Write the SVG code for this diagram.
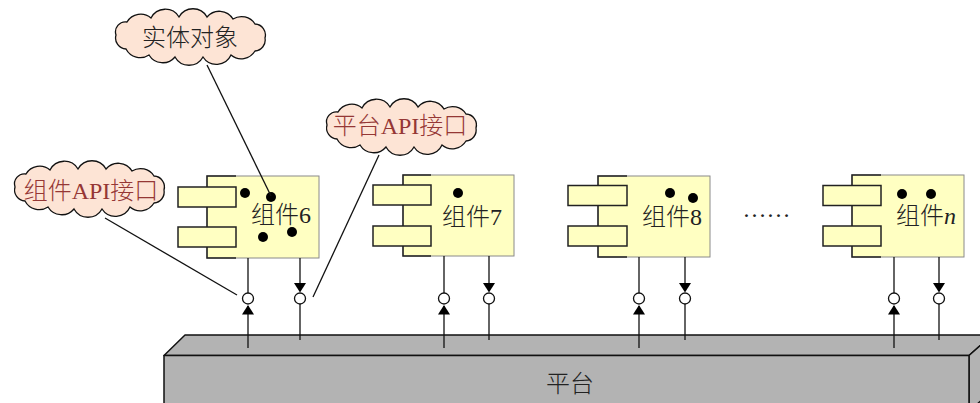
<svg xmlns="http://www.w3.org/2000/svg" width="980" height="403" viewBox="0 0 980 403">
<defs>
<style>
.body{fill:#ffffc2;stroke:#8a8a8a;stroke-width:1}
.edge{fill:none;stroke:#222;stroke-width:1.5}
.port{fill:#ffffc2;stroke:#222;stroke-width:1.5}
.dot{fill:#000}
.lbl{font-family:"Liberation Serif","Noto Sans CJK SC",serif;font-size:24px;font-weight:300;fill:#222;text-anchor:middle}
.api{fill:#953735}
.cloud{fill:#fde4d5;stroke:#111;stroke-width:1.3}
.wire{stroke:#111;stroke-width:1.3;fill:none}
.ring{fill:#fff;stroke:#111;stroke-width:1.3}
.plat{fill:#b3b3b3;stroke:#111;stroke-width:1.5;stroke-linejoin:round}
</style>
<path id="cloudshape" d="M-75,-2 A10,10 0 0 1 -64,-15 A16,16 0 0 1 -40,-19 A16,16 0 0 1 -12,-20 A16,16 0 0 1 16,-20 A16,16 0 0 1 42,-18 A16,16 0 0 1 64,-13 A11,11 0 0 1 74,1 A11,11 0 0 1 64,14 A16,16 0 0 1 40,18 A16,16 0 0 1 12,20 A16,16 0 0 1 -16,20 A16,16 0 0 1 -42,18 A16,16 0 0 1 -65,12 A11,11 0 0 1 -75,-2 Z"/>
<polygon id="up" points="0,0 -6,9.5 6,9.5" fill="#000"/>
<polygon id="down" points="-6,0 6,0 0,9.5" fill="#000"/>
</defs>
<rect width="980" height="403" fill="#fff"/>

<g id="platform">
<polygon class="plat" points="164,355.5 185,335 992,335 969,355.5"/>
<polygon class="plat" points="969,355.5 992,335 992,390 969,412"/>
<rect class="plat" x="164" y="355.5" width="805" height="60"/>
<text class="lbl" x="570" y="392">平台</text>
</g>

<g id="comp6">
<rect class="body" x="207" y="176" width="112" height="82"/>
<path class="edge" d="M236,176 H207 V258 H236"/>
<rect class="port" x="178" y="187" width="58" height="20"/>
<rect class="port" x="178" y="227" width="58" height="20"/>
<circle class="dot" cx="245" cy="193" r="5"/>
<circle class="dot" cx="271" cy="197" r="5"/>
<circle class="dot" cx="263" cy="237" r="5"/>
<circle class="dot" cx="292" cy="232" r="5"/>
<text class="lbl" x="281" y="223">组件6</text>
</g>

<g id="comp7">
<rect class="body" x="403" y="175" width="111" height="81"/>
<path class="edge" d="M431,175 H403 V256 H431"/>
<rect class="port" x="373" y="185" width="58" height="20"/>
<rect class="port" x="373" y="226" width="58" height="20"/>
<circle class="dot" cx="458" cy="193" r="5"/>
<text class="lbl" x="472" y="225">组件7</text>
</g>

<g id="comp8">
<rect class="body" x="598" y="176" width="112" height="81"/>
<path class="edge" d="M627,176 H598 V257 H627"/>
<rect class="port" x="568" y="185.5" width="59" height="20"/>
<rect class="port" x="568" y="226" width="59" height="20"/>
<circle class="dot" cx="670" cy="193" r="5"/>
<circle class="dot" cx="693" cy="198" r="5"/>
<text class="lbl" x="672" y="225">组件8</text>
</g>

<g id="ellipsis">
<text x="766.5" y="217" style="font-family:'Liberation Serif',serif;font-size:24px;fill:#222;text-anchor:middle">……</text>
</g>

<g id="compn">
<rect class="body" x="852" y="175" width="112" height="82"/>
<path class="edge" d="M881,175 H852 V257 H881"/>
<rect class="port" x="823" y="185.5" width="58" height="20"/>
<rect class="port" x="823" y="226" width="58" height="20"/>
<circle class="dot" cx="902" cy="194" r="5"/>
<circle class="dot" cx="931" cy="194" r="5"/>
<text class="lbl" x="926" y="224">组件<tspan font-style="italic">n</tspan></text>
</g>

<g id="cloud-entity">
<use href="#cloudshape" class="cloud" x="191" y="37"/>
<text class="lbl" x="190" y="46">实体对象</text>
</g>
<g id="cloud-platform-api">
<use href="#cloudshape" class="cloud" x="402" y="127"/>
<text class="lbl api" x="400" y="134">平台API接口</text>
</g>
<g id="cloud-component-api">
<use href="#cloudshape" class="cloud" x="90" y="189"/>
<text class="lbl api" x="91" y="199">组件API接口</text>
</g>

<g id="connectors">
<line class="wire" x1="207" y1="65" x2="271" y2="196"/>
<line class="wire" x1="105" y1="218" x2="237" y2="295"/>
<line class="wire" x1="379" y1="155" x2="313" y2="297"/>

<line class="wire" x1="248" y1="258" x2="248" y2="293"/>
<circle class="ring" cx="248" cy="298.5" r="5.5"/>
<line class="wire" x1="248" y1="306" x2="248" y2="348"/>
<use href="#up" x="248" y="305"/>
<line class="wire" x1="300" y1="258" x2="300" y2="285"/>
<use href="#down" x="300" y="283"/>
<circle class="ring" cx="300" cy="298.5" r="5.5"/>
<line class="wire" x1="300" y1="304" x2="300" y2="340"/>

<line class="wire" x1="444" y1="256" x2="444" y2="293"/>
<circle class="ring" cx="444" cy="298.5" r="5.5"/>
<line class="wire" x1="444" y1="306" x2="444" y2="348"/>
<use href="#up" x="444" y="305"/>
<line class="wire" x1="489" y1="256" x2="489" y2="285"/>
<use href="#down" x="489" y="283"/>
<circle class="ring" cx="489" cy="298.5" r="5.5"/>
<line class="wire" x1="489" y1="304" x2="489" y2="340"/>

<line class="wire" x1="639" y1="257" x2="639" y2="293"/>
<circle class="ring" cx="639" cy="298.5" r="5.5"/>
<line class="wire" x1="639" y1="306" x2="639" y2="348"/>
<use href="#up" x="639" y="305"/>
<line class="wire" x1="685" y1="257" x2="685" y2="285"/>
<use href="#down" x="685" y="283"/>
<circle class="ring" cx="685" cy="298.5" r="5.5"/>
<line class="wire" x1="685" y1="304" x2="685" y2="340"/>

<line class="wire" x1="894" y1="257" x2="894" y2="293"/>
<circle class="ring" cx="894" cy="298.5" r="5.5"/>
<line class="wire" x1="894" y1="306" x2="894" y2="348"/>
<use href="#up" x="894" y="305"/>
<line class="wire" x1="939" y1="257" x2="939" y2="285"/>
<use href="#down" x="939" y="283"/>
<circle class="ring" cx="939" cy="298.5" r="5.5"/>
<line class="wire" x1="939" y1="304" x2="939" y2="340"/>
</g>
</svg>
